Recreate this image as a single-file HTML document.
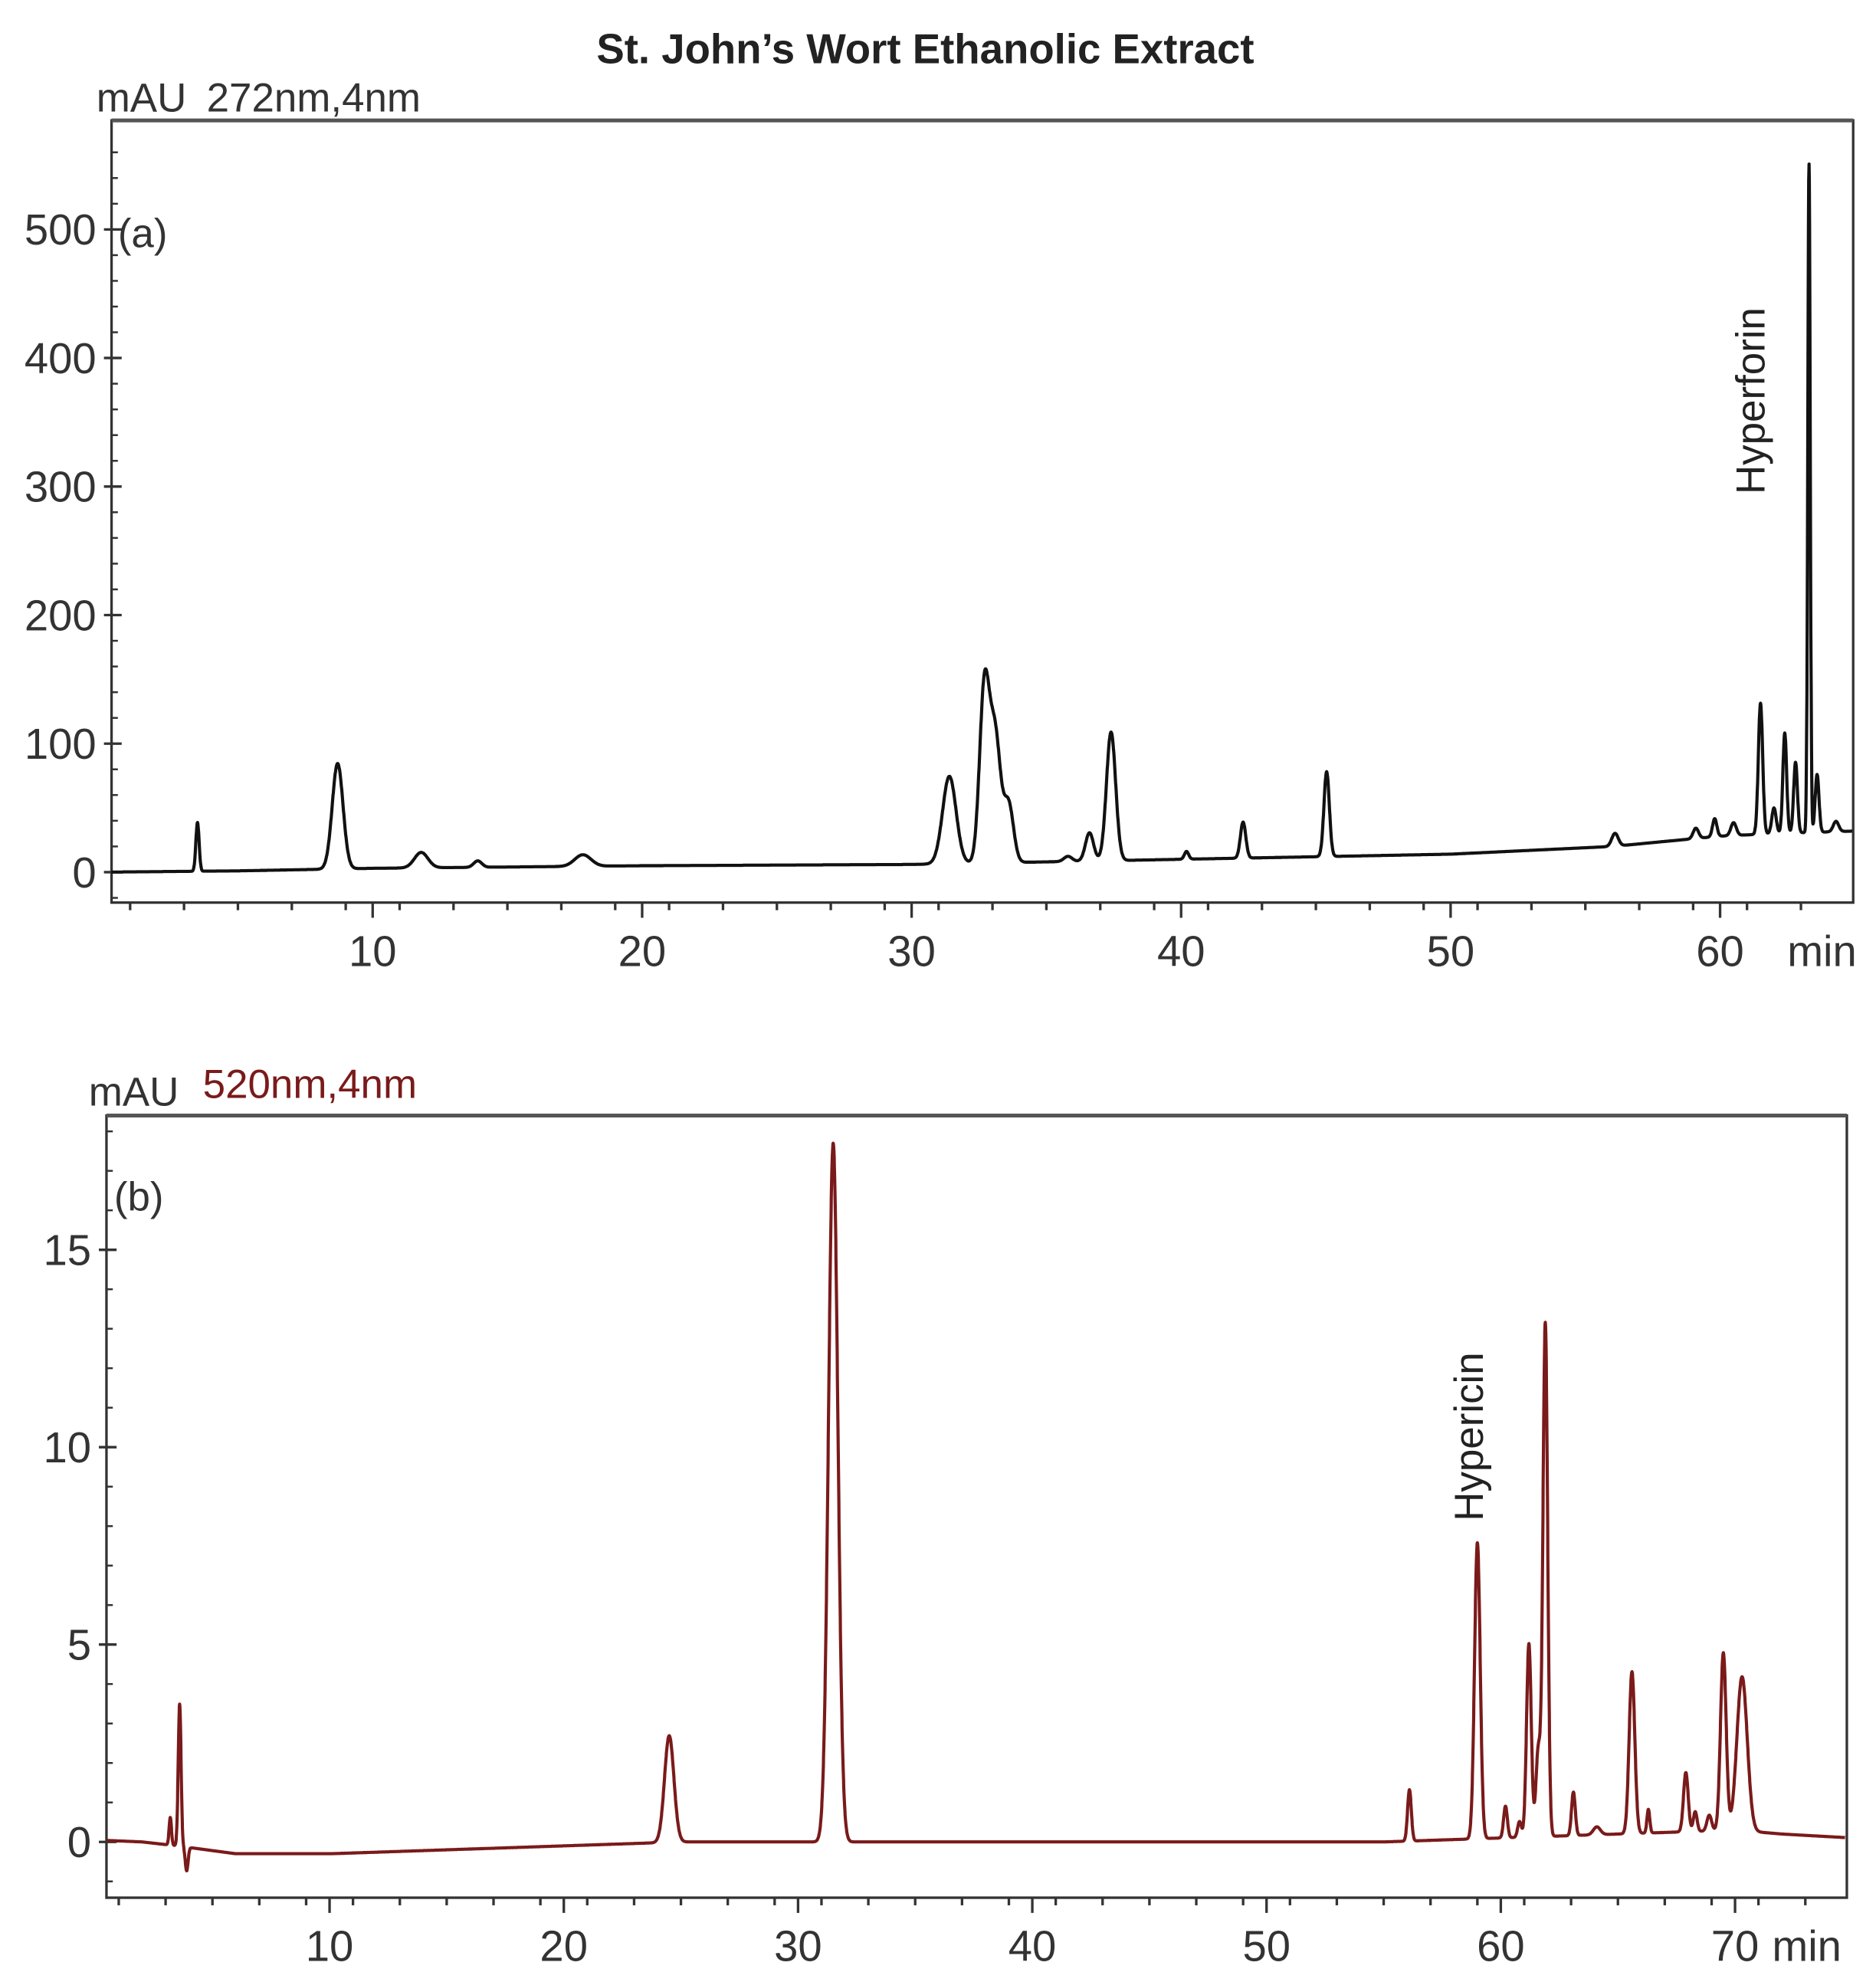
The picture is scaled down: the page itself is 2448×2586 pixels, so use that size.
<!DOCTYPE html>
<html><head><meta charset="utf-8"><style>
html,body{margin:0;padding:0;background:#fff}
svg{display:block}
text{font-family:"Liberation Sans",sans-serif}
</style></head><body>
<svg id="c" width="2448" height="2586" viewBox="0 0 1480 1563.5" preserveAspectRatio="none">
<text x="730" y="50" text-anchor="middle" font-size="33" font-weight="bold" fill="#222">St. John’s Wort Ethanolic Extract</text>
<g id="pa"></g>
<g id="pb"></g>
</svg>
<script>
// Panel (a) 272nm data
const aPeakTimes = [3.5,8.7,11.8,13.9,17.8,31.4,32.7,33.1,33.6,35.8,36.6,37.4,40.2,42.3,45.4,56.1,59.1,59.8,60.5,61.5,62.0,62.4,62.8,63.3,63.6,64.3];
const aPeakHeights = [38,82,12,5,9,68,135,98,45,4,22,100,6,28,66,10,8,14,10,102,20,78,55,520,45,8];
const aPeakWidths = [0.06,0.2,0.25,0.15,0.3,0.25,0.18,0.2,0.18,0.15,0.15,0.17,0.08,0.1,0.1,0.12,0.1,0.08,0.1,0.08,0.08,0.07,0.07,0.045,0.07,0.1];
const aBaseTimes = [0,5,10,20,30,40,50,56,60,62,65];
const aBaseValues = [0,1,3,5,6,10,14,20,28,30,32];
const aYTicks = [0,100,200,300,400,500];
const aXTicks = [10,20,30,40,50,60];
// Panel (b) 520nm data
const bPeakTimes = [3.2,3.6,3.9,24.5,31.5,56.1,59.0,60.2,60.8,61.2,61.6,61.9,63.1,64.1,65.6,66.3,67.9,68.3,68.9,69.5,70.3];
const bPeakHeights = [0.7,3.6,-0.6,2.7,17.7,1.3,7.5,0.8,0.4,4.9,2.2,13.0,1.1,0.2,4.1,0.6,1.5,0.5,0.4,4.5,3.9];
const bPeakWidths = [0.05,0.06,0.06,0.2,0.2,0.08,0.12,0.08,0.08,0.1,0.1,0.1,0.08,0.15,0.12,0.06,0.1,0.08,0.1,0.12,0.22];
const bBaseTimes = [0,2,3.5,6,10,20,25,40,55,60,65,70,72,75];
const bBaseValues = [0.05,0,-0.1,-0.3,-0.3,-0.1,0,0,0,0.1,0.2,0.3,0.2,0.1];
const bYTicks = [0,5,10,15];
const bXTicks = [10,20,30,40,50,60,70];

const NS='http://www.w3.org/2000/svg';
function mk(tag,attrs,parent){const e=document.createElementNS(NS,tag);for(const k in attrs)e.setAttribute(k,attrs[k]);parent.appendChild(e);return e;}
function interp(ts,vs,t){if(t<=ts[0])return vs[0];for(let i=1;i<ts.length;i++){if(t<=ts[i]){const f=(t-ts[i-1])/(ts[i]-ts[i-1]);return vs[i-1]+f*(vs[i]-vs[i-1]);}}return vs[vs.length-1];}
function signal(t,bt,bv,pt,ph,pw){let y=interp(bt,bv,t);for(let i=0;i<pt.length;i++){const d=(t-pt[i])/pw[i];if(Math.abs(d)<6)y+=ph[i]*Math.exp(-0.5*d*d);}return y;}

function panel(g,cfg){
  const xs=v=>cfg.x0+v*cfg.kx, ys=v=>cfg.y0-v*cfg.ky;
  let b=mk('rect',{x:cfg.L,y:cfg.T,width:cfg.R-cfg.L,height:cfg.B-cfg.T,fill:'none',stroke:'#333','stroke-width':2},g);
  
  mk('line',{x1:cfg.L,y1:cfg.T,x2:cfg.R,y2:cfg.T,stroke:'#555','stroke-width':3},g);
  for(let v=cfg.yMin;v<=cfg.yMax;v+=cfg.yMinor){const y=ys(v);if(y<cfg.T||y>cfg.B)continue;mk('line',{x1:cfg.L,y1:y,x2:cfg.L+5,y2:y,stroke:'#333','stroke-width':1.5},g);}
  for(let v=Math.ceil(cfg.xMin);v<=cfg.xMax;v+=cfg.xMinor){const x=xs(v);if(x<cfg.L||x>cfg.R)continue;mk('line',{x1:x,y1:cfg.B,x2:x,y2:cfg.B+6,stroke:'#333','stroke-width':2},g);}
  cfg.yt.forEach(v=>{const y=ys(v);mk('line',{x1:cfg.L-6,y1:y,x2:cfg.L+8,y2:y,stroke:'#333','stroke-width':2},g);
    const t=mk('text',{x:cfg.L-12,y:y+12,'text-anchor':'end','font-size':34,fill:'#333'},g);t.textContent=v;
    });
  cfg.xt.forEach(v=>{const x=xs(v);mk('line',{x1:x,y1:cfg.B,x2:x,y2:cfg.B+12,stroke:'#333','stroke-width':2},g);
    const t=mk('text',{x:x,y:cfg.B+50,'text-anchor':'middle','font-size':34,fill:'#333'},g);t.textContent=v;
    });
  let d='';for(let t=cfg.xMin;t<=cfg.xMax;t+=0.01){const y=Math.max(cfg.T,Math.min(cfg.B,ys(signal(t,cfg.bt,cfg.bv,cfg.pt,cfg.ph,cfg.pw))));d+=(d?'L':'M')+xs(t).toFixed(1)+' '+y.toFixed(1);}
  const p=mk('path',{d:d,fill:'none',stroke:cfg.col,'stroke-width':2.5,'stroke-linejoin':'round'},g);
  
}

const ga=document.getElementById('pa');
panel(ga,{L:88,R:1462,T:95,B:712,x0:81.4,kx:21.26,y0:688,ky:1.014,xMin:0.3,xMax:64.9,yMin:-20,yMax:560,yMinor:20,xMinor:2,yt:aYTicks,xt:aXTicks,bt:aBaseTimes,bv:aBaseValues,pt:aPeakTimes,ph:aPeakHeights,pw:aPeakWidths,col:'#111'});
const gb=document.getElementById('pb');
panel(gb,{L:84,R:1457,T:880,B:1497,x0:75.2,kx:18.48,y0:1453,ky:31.14,xMin:0.5,xMax:74.7,yMin:-1,yMax:18,yMinor:1,xMinor:2,yt:bYTicks,xt:bXTicks,bt:bBaseTimes,bv:bBaseValues,pt:bPeakTimes,ph:bPeakHeights,pw:bPeakWidths,col:'#7a1a1a'});
</script>
<script>
const s=document.getElementById('c');
function tx(x,y,str,size,fill,name,rot){const t=document.createElementNS('http://www.w3.org/2000/svg','text');t.setAttribute('x',x);t.setAttribute('y',y);t.setAttribute('font-size',size);t.setAttribute('fill',fill);if(rot)t.setAttribute('transform','rotate(-90 '+x+' '+y+')');t.textContent=str;


s.appendChild(t);}
tx(76,88,'mAU',32,'#333','y-unit-a');
tx(163,88,'272nm,4nm',32,'#333','wavelength-a');
tx(93,195,'(a)',32,'#333','panel-a-label');
tx(1392,390,'Hyperforin',32,'#222','hyperforin-label',true);
tx(1410,762,'min',34,'#333','x-unit-a');
tx(70,872,'mAU',32,'#333','y-unit-b');
tx(160,866,'520nm,4nm',32,'#7a1a1a','wavelength-b');
tx(90,955,'(b)',32,'#333','panel-b-label');
tx(1170,1200,'Hypericin',32,'#222','hypericin-label',true);
tx(1398,1547,'min',34,'#333','x-unit-b');
</script>
</body></html>
